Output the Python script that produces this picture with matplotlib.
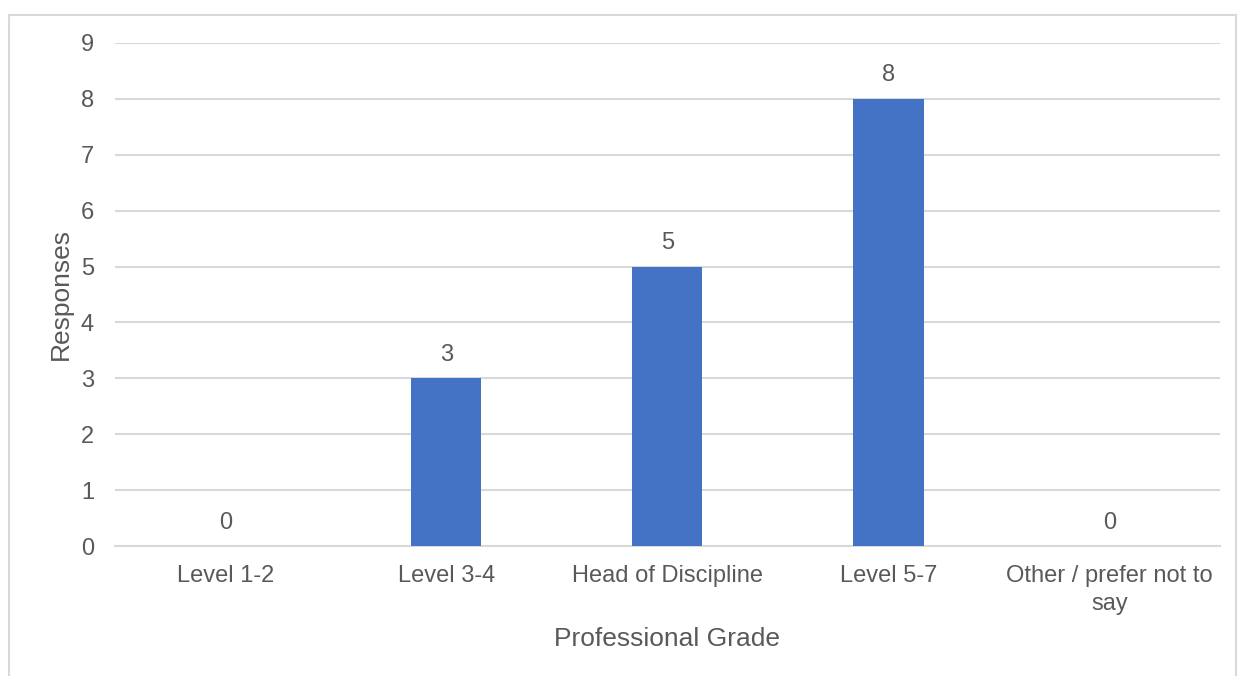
import matplotlib.pyplot as plt
from matplotlib.patches import Rectangle

plt.rcParams['font.family'] = ['Liberation Sans', 'DejaVu Sans']

categories = ['Level 1-2', 'Level 3-4', 'Head of Discipline', 'Level 5-7',
              'Other / prefer not to\nsay']
responses = [0, 3, 5, 8, 0]

text_col = '#595959'
grid_col = '#d9d9d9'

fig = plt.figure(figsize=(12.44, 6.76), dpi=100)
ax = fig.add_axes([0.0924, 0.1923, 0.8883, 0.7441])

# outer chart border
fig.patches.append(Rectangle((9 / 1244, -0.05), 1227 / 1244, 1 - 15 / 676 + 0.05,
                             transform=fig.transFigure, fill=False,
                             edgecolor=grid_col, linewidth=1.5))

x = range(len(categories))
bars = ax.bar(x, responses, width=0.317, color='#4472c4', zorder=3)
for b, v in zip(bars, responses):
    ax.annotate(str(v), (b.get_x() + b.get_width() / 2, v), xytext=(0, 9),
                textcoords='offset points', ha='center', va='bottom',
                fontsize=17, color=text_col)

ax.set_xlim(-0.5, len(categories) - 0.5)
ax.set_ylim(0, 9)
ax.set_yticks(range(10))
ax.set_xticks(list(x))
ax.set_xticklabels(categories, linespacing=1.35)
ax.tick_params(length=0, labelsize=17, colors=text_col)
ax.tick_params(axis='x', pad=14)
ax.tick_params(axis='y', pad=15)

ax.grid(axis='y', color=grid_col, linewidth=1.5, zorder=0)
for s in ['top', 'right', 'left']:
    ax.spines[s].set_visible(False)
ax.spines['bottom'].set_color(grid_col)
ax.spines['bottom'].set_linewidth(1.5)

ax.set_xlabel('Professional Grade', fontsize=19, color=text_col, labelpad=8)
ax.set_ylabel('Responses', fontsize=19, color=text_col, labelpad=6)

fig.savefig('out.png', dpi=100)
